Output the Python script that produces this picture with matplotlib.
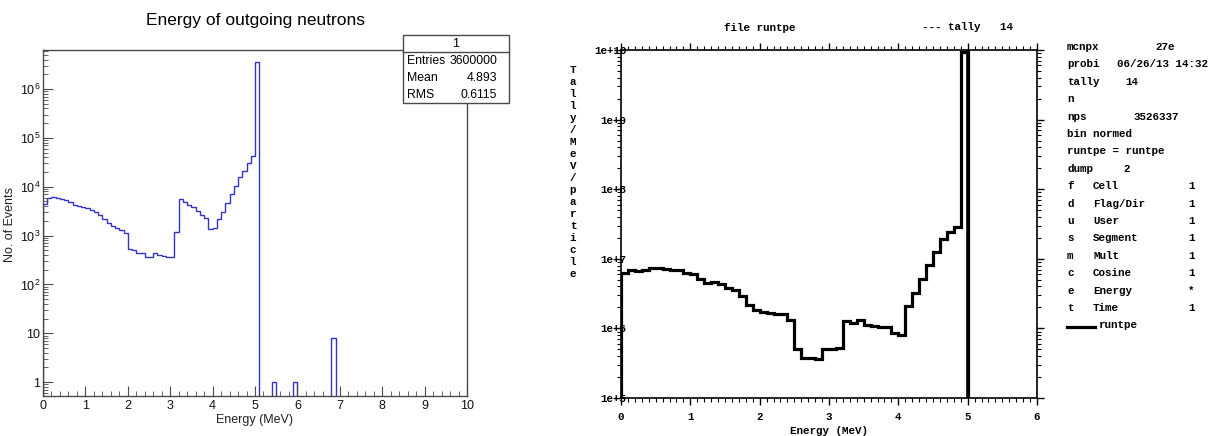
import numpy as np
import matplotlib
matplotlib.use("Agg")
import matplotlib.pyplot as plt
from matplotlib.ticker import FixedLocator, FuncFormatter, MultipleLocator, NullFormatter

plt.rcParams["font.family"] = ["Liberation Sans", "DejaVu Sans"]
plt.rcParams["mathtext.fontset"] = "custom"
plt.rcParams["mathtext.rm"] = "Liberation Sans"
plt.rcParams["mathtext.it"] = "Liberation Sans"

W, H = 1219, 436

# ---- left panel data: ROOT histogram, 0.1 MeV bins --------------------------
left_bin_width = 0.1
left_counts_low = [  # bins 0.0 ... 5.0 MeV
    4500, 6000, 6300, 6000, 5600, 5300, 4800, 4300, 4000, 3800,
    3600, 3400, 3000, 2700, 2200, 1800, 1600, 1450, 1300, 1150,
    530, 500, 450, 440, 360, 370, 450, 400, 380, 370,
    360, 1200, 5500, 4800, 4300, 3800, 3200, 2700, 2300, 1350,
    1400, 2200, 3000, 4600, 7000, 10500, 16000, 21000, 31000, 43000,
    3.5e6,
]
left_extra_e = [5.4, 5.9, 6.8]
left_extra_n = [1, 1, 8]
left_decades = [0, 1, 2, 3, 4, 5, 6]
stats_rows = [("Entries", "3600000"), ("Mean", "4.893"), ("RMS", "0.6115")]

# ---- right panel data: MCNP tally 14, 0.1 MeV bins --------------------------
right_counts = [  # bins 0.0 ... 4.9 MeV
    6.2e6, 6.9e6, 6.6e6, 6.9e6, 7.4e6, 7.4e6, 7.1e6, 6.8e6, 6.8e6, 6.2e6,
    6.0e6, 5.2e6, 4.5e6, 4.7e6, 4.4e6, 3.8e6, 3.6e6, 2.9e6, 2.2e6, 1.85e6,
    1.7e6, 1.65e6, 1.6e6, 1.6e6, 1.3e6, 5.0e5, 3.8e5, 3.7e5, 3.6e5, 5.0e5,
    5.0e5, 5.3e5, 1.29e6, 1.2e6, 1.3e6, 1.13e6, 1.1e6, 1.05e6, 1.05e6, 8.5e5,
    8.0e5, 2.1e6, 3.2e6, 5.1e6, 8.1e6, 1.26e7, 1.9e7, 2.4e7, 2.9e7, 9.5e9,
]
right_decades = [5, 6, 7, 8, 9, 10]
ylab_chars = "Tally/MeV/particle"
info_rows = [
    ("mcnpx", "", "27e"),
    ("probi", "", "06/26/13 14:32"),
    ("tally", "", "14"),
    ("n", "", ""),
    ("nps", "", "3526337"),
    ("bin normed", "", ""),
    ("runtpe = runtpe", "", ""),
    ("dump", "", "2"),
    ("f", "Cell", "1"),
    ("d", "Flag/Dir", "1"),
    ("u", "User", "1"),
    ("s", "Segment", "1"),
    ("m", "Mult", "1"),
    ("c", "Cosine", "1"),
    ("e", "Energy", "*"),
    ("t", "Time", "1"),
]
info_value_x = {"mcnpx": 1155, "probi": 1117, "tally": 1125, "nps": 1133, "dump": 1123}


def px_axes(x0, y0, x1, y1):
    return fig.add_axes([x0 / W, 1 - y1 / H, (x1 - x0) / W, (y1 - y0) / H])


def ftext(x, y, s, **kw):
    return fig.text(x / W, 1 - y / H, s, **kw)


def log_minors(decades):
    return [m * 10.0 ** d for d in range(decades[0] - 1, decades[-1] + 1) for m in range(2, 10)]


fig = plt.figure(figsize=(W / 100, H / 100), dpi=100, facecolor="white")

# ============================ left: ROOT ====================================
ax1 = px_axes(43, 50, 467, 396)
counts = np.zeros(100)
counts[: len(left_counts_low)] = left_counts_low
for e, n in zip(left_extra_e, left_extra_n):
    counts[int(round(e / left_bin_width))] = n
edges = np.arange(101) * left_bin_width
ax1.stairs(counts, edges, baseline=1e-3, color="#3434c4", lw=1.0)
ax1.set_yscale("log")
ax1.set_xlim(0, 10)
ax1.set_ylim(0.52, 6.3e6)
frame_c = "#4a4a4a"
for s in ax1.spines.values():
    s.set_color(frame_c)
    s.set_linewidth(1.0)
ax1.xaxis.set_major_locator(MultipleLocator(1))
ax1.xaxis.set_minor_locator(MultipleLocator(0.2))
ax1.yaxis.set_major_locator(FixedLocator([10.0 ** d for d in left_decades]))
ax1.yaxis.set_minor_locator(FixedLocator([v for v in log_minors(left_decades) if 0.52 < v < 6.3e6]))
ax1.yaxis.set_minor_formatter(NullFormatter())


def root_fmt(v, _):
    p = int(round(np.log10(v)))
    if p == 0:
        return "1"
    if p == 1:
        return "10"
    return r"$10^{%d}$" % p


ax1.yaxis.set_major_formatter(FuncFormatter(root_fmt))
ax1.tick_params(axis="both", which="both", direction="in", colors=frame_c,
                labelcolor="#111111", labelsize=9)
ax1.tick_params(axis="x", which="major", length=7, pad=3)
ax1.tick_params(axis="x", which="minor", length=3.5)
ax1.tick_params(axis="y", which="major", length=7, pad=2)
ax1.tick_params(axis="y", which="minor", length=3.5)
ax1.set_xlabel("Energy (MeV)", fontsize=9, labelpad=1, color="#222222")

ftext(255, 20, "Energy of outgoing neutrons", ha="center", va="center", fontsize=12.5)
ftext(10, 224, "No. of Events", ha="center", va="center", rotation=90,
      fontsize=9, color="#222222")

# stats box
bx0, by0, bx1, by1 = 403, 35, 509, 103
box = plt.Rectangle((bx0 / W, 1 - by1 / H), (bx1 - bx0) / W, (by1 - by0) / H,
                    transform=fig.transFigure, facecolor="white",
                    edgecolor=frame_c, lw=1.0, zorder=5)
fig.patches.append(box)
fig.add_artist(plt.Line2D([bx0 / W, bx1 / W], [1 - 52 / H, 1 - 52 / H],
                          transform=fig.transFigure, color=frame_c, lw=1.0, zorder=6))
ftext((bx0 + bx1) / 2, 44, "1", ha="center", va="center", fontsize=9, zorder=7)
for i, (k, v) in enumerate(stats_rows):
    y = 61 + i * 17
    ftext(407, y, k, ha="left", va="center", fontsize=8.8, zorder=7)
    ftext(497, y, v, ha="right", va="center", fontsize=8.8, zorder=7)

# ============================ right: MCNP ===================================
mono = ["Liberation Mono", "DejaVu Sans Mono"]
mfs = 7.8
ax2 = px_axes(621, 50, 1037, 398)
redges = np.arange(len(right_counts) + 1) * 0.1
ax2.stairs(right_counts, redges, baseline=1e-3, color="black", lw=2.3)
ax2.axvline(5.0, color="black", lw=2.6)
ax2.set_yscale("log")
ax2.set_xlim(0, 6)
ax2.set_ylim(1e5, 1e10)
for s in ax2.spines.values():
    s.set_color("black")
    s.set_linewidth(1.2)
ax2.xaxis.set_major_locator(MultipleLocator(1))
ax2.xaxis.set_minor_locator(MultipleLocator(0.1))
ax2.yaxis.set_major_locator(FixedLocator([10.0 ** d for d in right_decades]))
ax2.yaxis.set_minor_locator(FixedLocator([v for v in log_minors(right_decades) if 1e5 < v < 1e10]))
ax2.yaxis.set_minor_formatter(NullFormatter())
ax2.yaxis.set_major_formatter(FuncFormatter(lambda v, _: "1e+%d" % int(round(np.log10(v)))))
ax2.tick_params(axis="both", which="both", direction="out", top=True, right=True,
                labelsize=mfs)
ax2.tick_params(which="major", length=5, width=1.0)
ax2.tick_params(which="minor", length=3, width=0.8)
ax2.tick_params(axis="y", which="major", pad=-9)
ax2.tick_params(axis="x", which="major", pad=5)
for lab in ax2.get_xticklabels() + ax2.get_yticklabels():
    lab.set_family(mono)
    lab.set_weight("bold")
ax2.set_xlabel("Energy (MeV)", family=mono, fontsize=mfs, weight="bold", labelpad=3)

for i, ch in enumerate(ylab_chars):
    ftext(573, 70 + i * 12.0, ch, ha="center", va="center", family=mono,
          fontsize=mfs, weight="bold")

ftext(760, 28, "file runtpe", ha="center", va="center", family=mono,
      fontsize=mfs, weight="bold")
ftext(922, 27, "--- tally   14", ha="left", va="center", family=mono,
      fontsize=mfs, weight="bold")

for i, (a, b, c) in enumerate(info_rows):
    y = 47 + i * 17.4
    ftext(1067, y, a, ha="left", va="center", family=mono, fontsize=mfs, weight="bold")
    if b:
        ftext(1093, y, b, ha="left", va="center", family=mono, fontsize=mfs, weight="bold")
    if c:
        x = info_value_x.get(a, 1188)
        ftext(x, y, c, ha="left", va="center", family=mono, fontsize=mfs, weight="bold")

ly = 47 + len(info_rows) * 17.4
fig.add_artist(plt.Line2D([1067 / W, 1095 / W], [1 - (ly + 2) / H, 1 - (ly + 2) / H],
                          transform=fig.transFigure, color="black", lw=2.3))
ftext(1099, ly, "runtpe", ha="left", va="center", family=mono, fontsize=mfs, weight="bold")

fig.savefig("out.png", dpi=100, facecolor="white")
